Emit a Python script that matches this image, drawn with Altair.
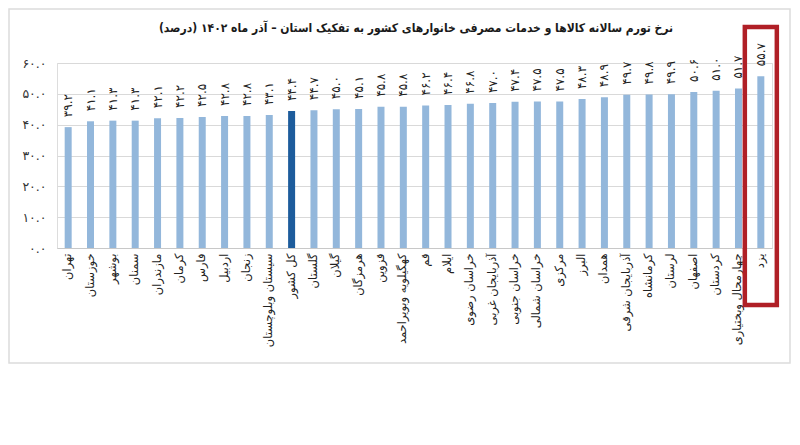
import altair as alt
import pandas as pd

FONT = "DejaVu Sans"

provinces = [
    "تهران", "خوزستان", "بوشهر", "سمنان", "مازندران", "کرمان", "فارس", "اردبیل",
    "زنجان", "سیستان وبلوچستان", "کل کشور", "گلستان", "گیلان", "هرمزگان", "قزوین",
    "کهگیلویه وبویراحمد", "قم", "ایلام", "خراسان رضوی", "آذربایجان غربی",
    "خراسان جنوبی", "خراسان شمالی", "مرکزی", "البرز", "همدان", "آذربایجان شرقی",
    "کرمانشاه", "لرستان", "اصفهان", "کردستان", "چهارمحال وبختیاری", "یزد",
]
inflation = [
    39.2, 41.1, 41.3, 41.3, 42.1, 42.2, 42.5, 42.8,
    42.8, 43.1, 44.4, 44.7, 45.0, 45.1, 45.8,
    45.8, 46.2, 46.4, 46.8, 47.0,
    47.4, 47.5, 47.5, 48.3, 48.9, 49.7,
    49.8, 49.9, 50.6, 51.0, 51.7, 55.7,
]
highlight = "کل کشور"
boxed = "یزد"
y_ticks = [0, 10, 20, 30, 40, 50, 60]
y_tick_labels = ["۰.۰", "۱۰.۰", "۲۰.۰", "۳۰.۰", "۴۰.۰", "۵۰.۰", "۶۰.۰"]
title_text = "نرخ تورم سالانه کالاها و خدمات مصرفی خانوارهای کشور به تفکیک استان – آذر ماه ۱۴۰۲ (درصد)"

PERSIAN = str.maketrans("0123456789", "۰۱۲۳۴۵۶۷۸۹")

df = pd.DataFrame({
    "province": provinces,
    "value": inflation,
    "label": [f"{v:.1f}".translate(PERSIAN) for v in inflation],
    "kind": ["total" if p == highlight else "prov" for p in provinces],
})

label_expr = " : ".join(
    f"datum.value == {v} ? '{t}'" for v, t in zip(y_ticks, y_tick_labels)
) + " : ''"

y_scale = alt.Scale(domain=[0, 60], nice=False)
x_axis = alt.Axis(labelAngle=-90, ticks=False, domainColor="#c8c8c8",
                  labelPadding=5, labelFontSize=11.5, labelColor="#222222",
                  labelFont=FONT, labelLimit=200)
y_axis = alt.Axis(values=y_ticks, labelExpr=label_expr, domain=False,
                  ticks=False, grid=True, gridColor="#d9d9d9",
                  labelPadding=11, labelFontSize=12.5, labelOverlap=False,
                  labelColor="#333333", labelFont=FONT)


def X():
    return alt.X("province:N", sort=None, title=None, axis=x_axis)


def Y(field="value:Q"):
    return alt.Y(field, scale=y_scale, title=None, axis=y_axis)


base = alt.Chart(df)

bars = base.mark_bar(size=7).encode(
    x=X(),
    y=Y(),
    color=alt.Color("kind:N",
                    scale=alt.Scale(domain=["prov", "total"],
                                    range=["#93b7db", "#1d5c9c"]),
                    legend=None),
)

labels = base.mark_text(angle=270, align="left", baseline="middle", dx=10,
                        fontSize=12, font=FONT, color="#222222").encode(
    x=X(),
    y=Y(),
    text="label:N",
)

box = alt.Chart(pd.DataFrame({"province": [boxed], "top": [71.7], "bottom": [-18.5]})).mark_bar(
    width=32, fillOpacity=0, stroke="#b01f26", strokeWidth=4.5
).encode(
    x=X(),
    y=Y("top:Q"),
    y2="bottom:Q",
)

frame = alt.Chart(pd.DataFrame({"a": [0]})).mark_rect(
    fillOpacity=0, stroke="#dcdcdc", strokeWidth=1.5
).encode(
    x=alt.value(-48), x2=alt.value(733), y=alt.value(-54), y2=alt.value(300),
)

title = alt.Chart(pd.DataFrame({"t": [title_text + "\u200f"]})).mark_text(
    font="DejaVu Sans Condensed", fontSize=12, fontWeight="bold", color="#1a1a1a",
    align="center", baseline="middle"
).encode(
    x=alt.value(359), y=alt.value(-35), text="t:N",
)

chart = alt.layer(frame, bars, labels, box, title).properties(
    width=715, height=185,
    autosize=alt.AutoSizeParams(type="none"),
    padding={"left": 49, "top": 55, "right": 20, "bottom": 125},
).configure_view(stroke=None).configure(background="white")

chart.save("out.html", embed_options={"renderer": "svg", "actions": False})
